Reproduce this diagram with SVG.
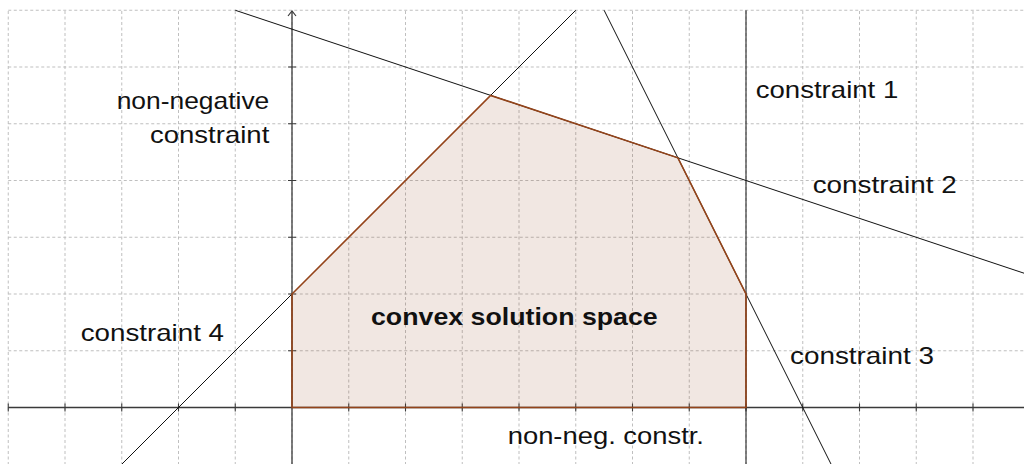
<svg xmlns="http://www.w3.org/2000/svg" width="1024" height="464" viewBox="0 0 1024 464">
<defs>
<style>
.grid{stroke:#b8b8b8;stroke-width:0.9;stroke-dasharray:3,2.5;fill:none}
.axis{stroke:#3a3a3a;stroke-width:1.3;fill:none}
.tick{stroke:#3a3a3a;stroke-width:1.1}
.cons{stroke:#111;stroke-width:1;fill:none}
.region{fill:#8f3d14;fill-opacity:0.12;stroke:#94441a;stroke-width:1.6;stroke-linejoin:miter}
text{font-family:"Liberation Sans",Arial,sans-serif;font-size:24px;fill:#111}
.bold{font-weight:bold}
</style>
<marker id="arr" viewBox="0 0 10 10" refX="9" refY="5" markerWidth="10" markerHeight="10" markerUnits="userSpaceOnUse" orient="auto">
<path d="M4,1 L9,5 L4,9" fill="none" stroke="#3a3a3a" stroke-width="1.2"/>
</marker>
</defs>
<rect width="1024" height="464" fill="#fff"/>
<g id="grid" class="grid">
<path d="M8.25,11V464M65,11V464M121.75,11V464M178.5,11V464M235.25,11V464M292,11V464M348.75,11V464M405.5,11V464M462.25,11V464M519,11V464M575.75,11V464M632.5,11V464M689.25,11V464M746,11V464M802.75,11V464M859.5,11V464M916.25,11V464M973,11V464"/>
<path d="M8.25,10.25H1024M8.25,67H1024M8.25,123.75H1024M8.25,180.5H1024M8.25,237.25H1024M8.25,294H1024M8.25,350.75H1024"/>
</g>
<g id="axes">
<line class="axis" x1="8.25" y1="407.5" x2="1024" y2="407.5"/>
<line class="axis" x1="292" y1="464" x2="292" y2="11" marker-end="url(#arr)"/>
<path class="tick" d="M8.25,403.5v8M65,403.5v8M121.75,403.5v8M178.5,403.5v8M235.25,403.5v8M348.75,403.5v8M405.5,403.5v8M462.25,403.5v8M519,403.5v8M575.75,403.5v8M632.5,403.5v8M689.25,403.5v8M746,403.5v8M802.75,403.5v8M859.5,403.5v8M916.25,403.5v8M973,403.5v8"/>
<path class="tick" d="M288,350.75h8M288,294h8M288,237.25h8M288,180.5h8M288,123.75h8M288,67h8"/>
</g>
<g id="connectors">
<line id="c1" class="cons" x1="746" y1="10.25" x2="746" y2="464"/>
<line id="c2" class="cons" x1="235.25" y1="10.25" x2="1024" y2="273.2"/>
<line id="c3" class="cons" x1="604.1" y1="10.25" x2="831.1" y2="464.25"/>
<line id="c4" class="cons" x1="121.75" y1="464.25" x2="575.75" y2="10.25"/>
</g>
<g id="region">
<polygon class="region" points="292,407.5 292,294 490.6,95.4 677.9,157.8 746,294 746,407.5"/>
</g>
<g id="labels">
<text x="269.3" y="109.3" text-anchor="end" textLength="152.6" lengthAdjust="spacingAndGlyphs">non-negative</text>
<text x="269.3" y="142.7" text-anchor="end" textLength="119.3" lengthAdjust="spacingAndGlyphs">constraint</text>
<text x="755.7" y="97.7" textLength="142.6" lengthAdjust="spacingAndGlyphs">constraint 1</text>
<text x="812.7" y="193.3" textLength="144" lengthAdjust="spacingAndGlyphs">constraint 2</text>
<text x="790" y="364" textLength="144" lengthAdjust="spacingAndGlyphs">constraint 3</text>
<text x="80.7" y="340.7" textLength="143.3" lengthAdjust="spacingAndGlyphs">constraint 4</text>
<text class="bold" x="371" y="325" textLength="286.7" lengthAdjust="spacingAndGlyphs">convex solution space</text>
<text x="507.7" y="444" textLength="196.3" lengthAdjust="spacingAndGlyphs">non-neg. constr.</text>
</g>
</svg>
